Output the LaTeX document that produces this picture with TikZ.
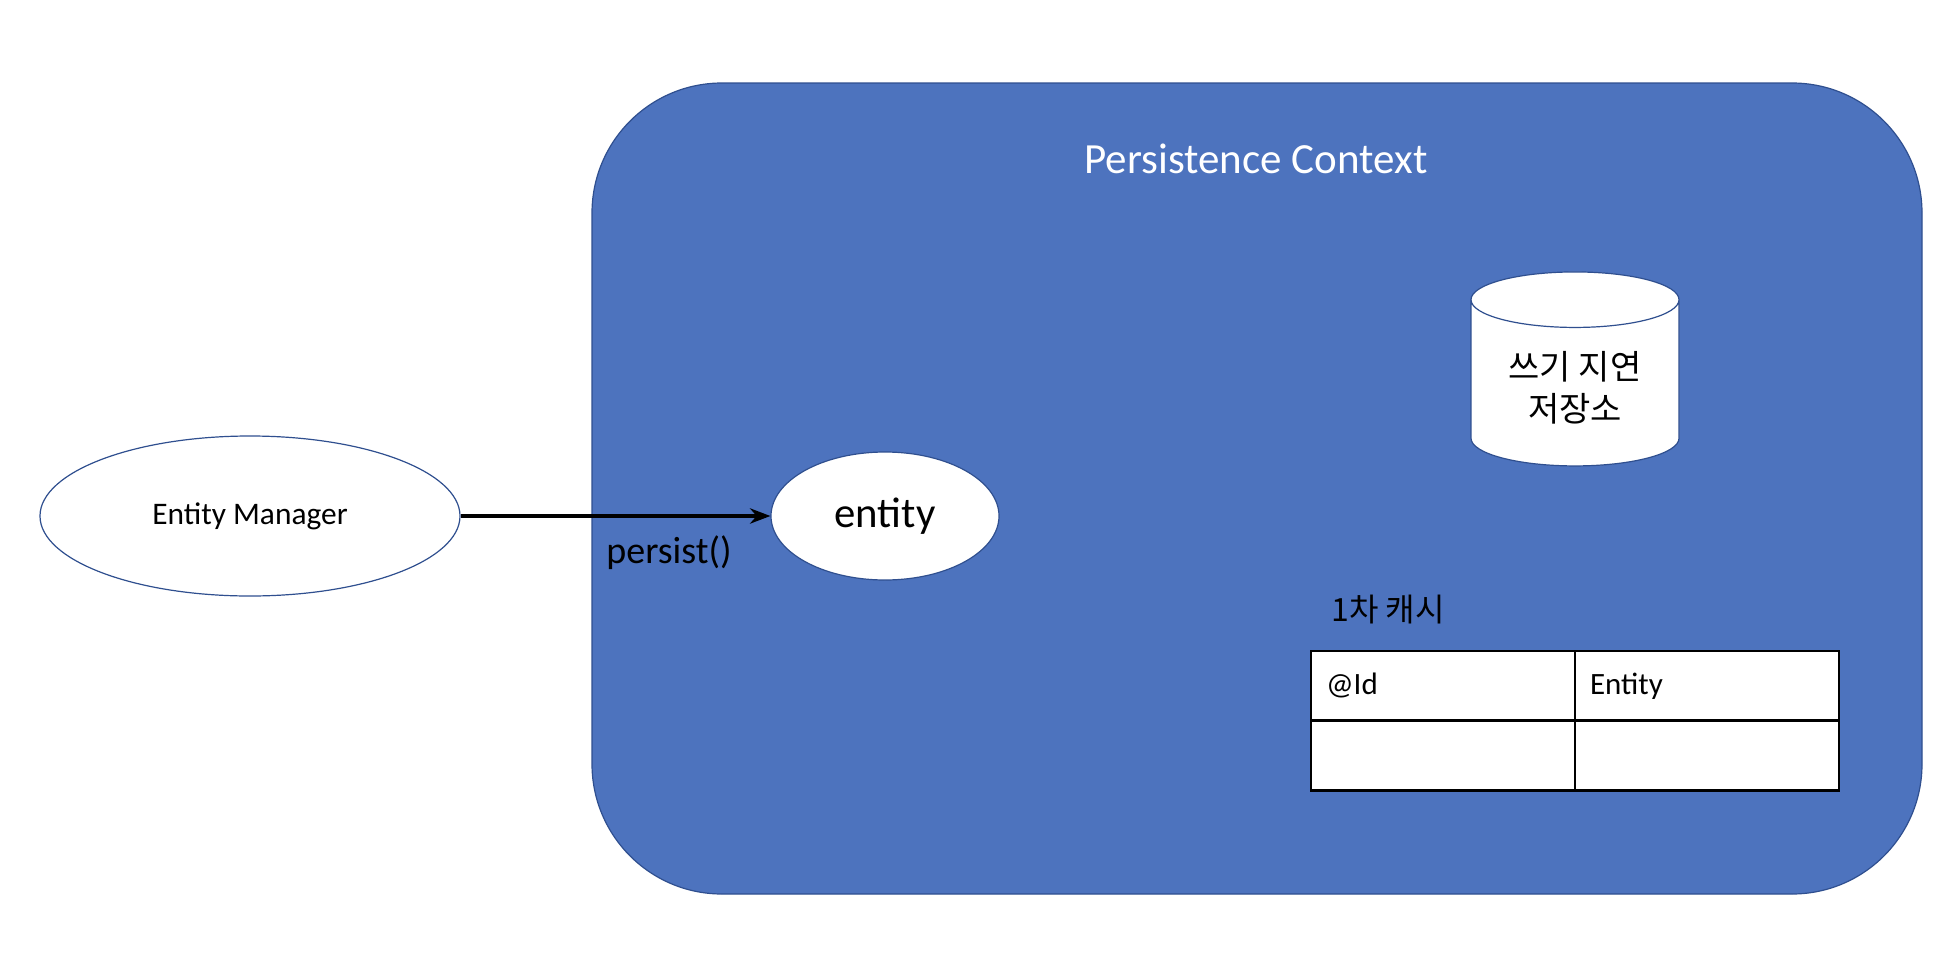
\documentclass[tikz,border=0pt]{standalone}
\usepackage{fontspec}
\setmainfont{Carlito}
\newfontfamily\krfont{Noto Sans CJK KR}
\usetikzlibrary{arrows.meta,shapes.geometric}
\definecolor{ctxblue}{HTML}{4D73BE}
\definecolor{ctxline}{HTML}{2F4F8F}

\begin{document}
\begin{tikzpicture}[x=0.5pt,y=-0.5pt,>=Stealth,
ctx/.style ={draw=ctxline, fill=ctxblue, rounded corners=65pt, line width=0.6pt},
ovalnode/.style ={ellipse, draw=ctxline, fill=white, line width=0.6pt, inner sep=0pt},
store/.style ={cylinder, shape border rotate=90, shape aspect=0.38, draw=ctxline, fill=white, line width=0.6pt, minimum width=104pt, minimum height=97pt, align=center, font=\krfont\fontsize{17}{21}\selectfont},
cell/.style ={rectangle, draw=black, fill=white, line width=1.2pt, minimum width=132pt, minimum height=35pt, text width=117pt, text height=21.5pt, text depth=13.5pt, inner sep=0pt, align=left, font=\fontsize{15.5}{17}\selectfont}
]
\useasboundingbox (0,0) rectangle (1960,958);
\draw[ctx] (592,83) rectangle (1922,894);
\draw (1256,159) node[text=white, font=\fontsize{21.5}{25}\selectfont] (PC) {Persistence Context};
\draw (250,516) node[ovalnode, minimum width=210pt, minimum height=80pt, font=\fontsize{15.7}{18}\selectfont] (EM) {Entity Manager};
\draw (885,516) node[ovalnode, minimum width=114pt, minimum height=64pt, font=\fontsize{21.4}{24}\selectfont] (E) {entity};
\draw[->, line width=1.6pt] (EM)--(E);
\draw (669,553) node[font=\fontsize{19}{22}\selectfont] (P) {persist()};
\draw (1575,388) node[store] (WS) {쓰기 지연\\저장소};
\draw (1331,610) node[anchor=west, inner sep=0pt, font=\krfont\fontsize{16}{19}\selectfont] (L1) {1차 캐시};
% 1차 캐시 table
\draw (1443,686) node[cell] (C11) {@Id};
\draw (1707,686) node[cell] (C12) {Entity};
\draw (1443,755.5) node[cell] (C21) {};
\draw (1707,755.5) node[cell] (C22) {};
\end{tikzpicture}
\end{document}
